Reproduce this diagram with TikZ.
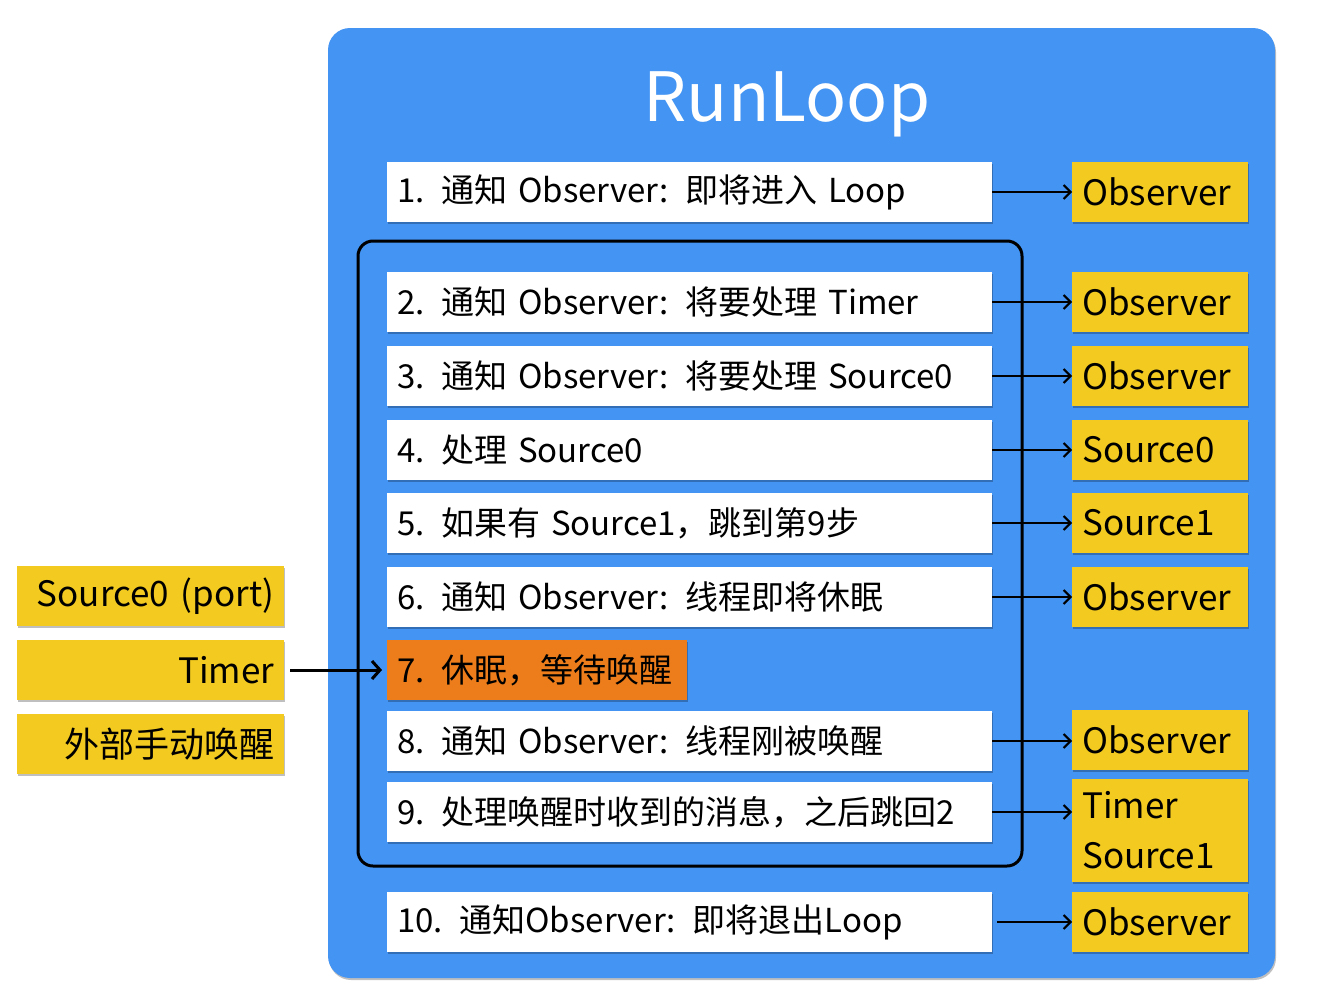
\documentclass[tikz,border=0pt]{standalone}
\usepackage{fontspec}
\setmainfont{Noto Sans CJK SC}
\usetikzlibrary{shadows,arrows.meta}
\definecolor{rlblue}{RGB}{67,148,243}
\definecolor{rlyellow}{RGB}{242,202,32}
\definecolor{rlorange}{RGB}{237,125,27}
\begin{document}
\begin{tikzpicture}[x=1pt,y=-1pt,
  sh/.style={drop shadow={shadow xshift=1pt,shadow yshift=-2pt,opacity=0.25,fill=black}},
  txt/.style={font=\fontsize{33}{50}\selectfont, inner ysep=0pt, inner xsep=10pt},
  ytxt/.style={font=\fontsize{35}{50}\selectfont, inner ysep=0pt, inner xsep=10pt},
  stepbox/.style={txt, fill=white, sh, minimum height=60pt, text width=585pt, align=left, anchor=west},
  sleepbox/.style={stepbox, fill=rlorange, text width=280pt},
  obsbox/.style={ytxt, fill=rlyellow, sh, minimum height=60pt, text width=156pt, align=left, anchor=west},
  srcbox/.style={ytxt, fill=rlyellow, sh, minimum height=60pt, text width=247pt, align=right, anchor=west},
  arr/.style={line width=2pt, -{Straight Barb[length=7pt,width=14pt,line width=2pt]}},
  bigarr/.style={line width=3pt, -{Straight Barb[length=8pt,width=18pt,line width=3pt]}}
]
\useasboundingbox (0,0) rectangle (1320,996);
\fill[rlblue, rounded corners=22pt, sh] (328,28) rectangle (1275,978);
\node[font=\fontsize{68}{80}\selectfont, text=white] (title) at (787,104) {RunLoop};
\draw[line width=3pt, rounded corners=15pt] (358,241) rectangle (1022,866);

\node[stepbox] (s1) at (387,192) {1. 通知 Observer: 即将进入 Loop};
\node[stepbox] (s2) at (387,302) {2. 通知 Observer: 将要处理 Timer};
\node[stepbox] (s3) at (387,376) {3. 通知 Observer: 将要处理 Source0};
\node[stepbox] (s4) at (387,450) {4. 处理 Source0};
\node[stepbox] (s5) at (387,523) {5. 如果有 Source1，跳到第9步};
\node[stepbox] (s6) at (387,597) {6. 通知 Observer: 线程即将休眠};
\node[sleepbox] (s7) at (387,670) {7. 休眠，等待唤醒};
\node[stepbox] (s8) at (387,741) {8. 通知 Observer: 线程刚被唤醒};
\node[stepbox] (s9) at (387,812) {9. 处理唤醒时收到的消息，之后跳回2};
\node[stepbox] (s10) at (387,922) {10. 通知Observer: 即将退出Loop};

\node[obsbox] (o1) at (1072,192) {Observer};
\node[obsbox] (o2) at (1072,302) {Observer};
\node[obsbox] (o3) at (1072,376) {Observer};
\node[obsbox] (o4) at (1072,450) {Source0};
\node[obsbox] (o5) at (1072,523) {Source1};
\node[obsbox] (o6) at (1072,597) {Observer};
\node[obsbox] (o8) at (1072,740) {Observer};
\node[obsbox, minimum height=103pt] (o9) at (1072,830.5) {Timer\\Source1};
\node[obsbox] (o10) at (1072,922) {Observer};

\node[srcbox] (l1) at (17,596) {Source0 (port)};
\node[srcbox] (l2) at (17,670) {Timer};
\node[srcbox] (l3) at (17,744) {外部手动唤醒};

\draw[arr] (s1.east) -- (o1.west);
\draw[arr] (s2.east) -- (o2.west);
\draw[arr] (s3.east) -- (o3.west);
\draw[arr] (s4.east) -- (o4.west);
\draw[arr] (s5.east) -- (o5.west);
\draw[arr] (s6.east) -- (o6.west);
\draw[arr] (s8.east) -- (o8.west |- s8.east);
\draw[arr] (s9.east) -- (o9.west |- s9.east);
\draw[arr, shorten <=5pt] (s10.east) -- (o10.west);
\draw[bigarr, shorten <=6pt, shorten >=5pt] (l2.east) -- (s7.west);
\end{tikzpicture}
\end{document}
